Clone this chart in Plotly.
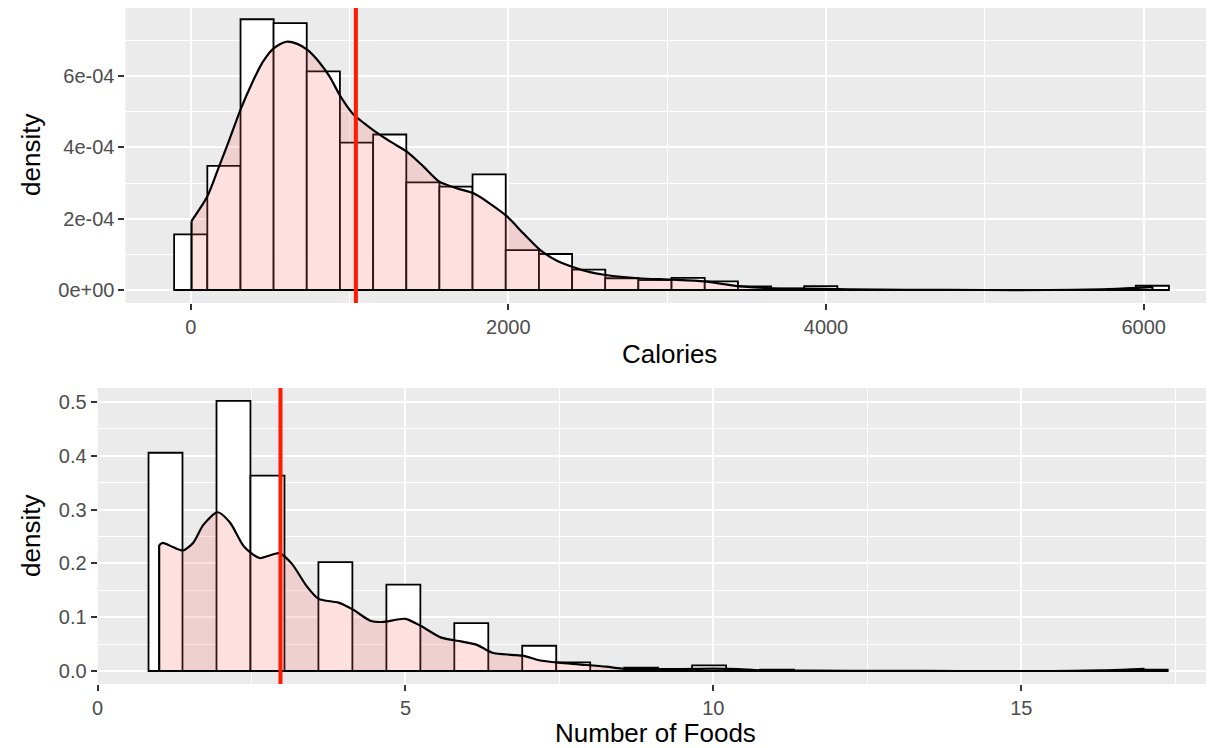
import plotly.graph_objects as go

# ---------------- data: Calories panel ----------------
cal_bin_centers = [0, 209, 418, 626, 835, 1044, 1253, 1462, 1670, 1879,
                   2088, 2297, 2506, 2714, 2923, 3132, 3341, 3550, 3758, 3967,
                   4176, 4385, 4594, 4802, 5011, 5220, 5429, 5638, 5846, 6055]
cal_bin_width = 208.8
cal_density_bars = [1.56e-4, 3.48e-4, 7.59e-4, 7.48e-4, 6.13e-4, 4.13e-4, 4.36e-4, 3.02e-4, 2.90e-4, 3.24e-4,
                    1.12e-4, 1.01e-4, 0.57e-4, 0.33e-4, 0.28e-4, 0.34e-4, 0.24e-4, 0.10e-4, 0.04e-4, 0.11e-4,
                    0, 0, 0, 0, 0, 0, 0, 0, 0, 0.12e-4]
cal_kde_x = [5, 104, 174, 243, 313, 385, 455, 524, 601, 671, 735, 807, 875, 944, 1019, 1093,
             1153, 1257, 1361, 1466, 1565, 1677, 1781, 1888, 1990, 2094, 2201, 2306, 2410,
             2514, 2614, 2817, 3027, 3234, 3447, 3654, 3872, 4138, 4500, 5000, 5400, 5734, 5947, 6055]
cal_kde_y = [1.93e-4, 2.62e-4, 3.41e-4, 4.21e-4, 5.05e-4, 5.79e-4, 6.40e-4, 6.78e-4, 6.96e-4, 6.90e-4,
             6.73e-4, 6.40e-4, 5.98e-4, 5.42e-4, 4.95e-4, 4.67e-4, 4.47e-4, 4.16e-4, 3.88e-4, 3.46e-4,
             3.04e-4, 2.85e-4, 2.71e-4, 2.41e-4, 2.07e-4, 1.59e-4, 1.12e-4, 0.82e-4, 0.64e-4,
             0.50e-4, 0.42e-4, 0.33e-4, 0.29e-4, 0.24e-4, 0.11e-4, 0.05e-4, 0.04e-4, 0.02e-4, 0.005e-4,
             0.0, 0.0, 0.02e-4, 0.06e-4, 0.09e-4]
cal_mean = 1040
cal_tickvals = [0, 2000, 4000, 6000]
cal_ticktext = ["0", "2000", "4000", "6000"]
cal_minor_x = [1000, 3000, 5000]
cal_ytickvals = [0, 2e-4, 4e-4, 6e-4]
cal_yticktext = ["0e+00", "2e-04", "4e-04", "6e-04"]
cal_minor_y = [1e-4, 3e-4, 5e-4, 7e-4]

# ---------------- data: Number of Foods panel ----------------
nf_bin_centers = [1.103, 1.655, 2.207, 2.759, 3.310, 3.862, 4.414, 4.966, 5.517, 6.069,
                  6.621, 7.172, 7.724, 8.276, 8.828, 9.379, 9.931, 10.483, 11.034, 11.586,
                  12.138, 12.690, 13.241, 13.793, 14.345, 14.897, 15.448, 16.000, 16.552, 17.103]
nf_bin_width = 0.5517
nf_density_bars = [0.4056, 0, 0.502, 0.363, 0, 0.2025, 0, 0.1605, 0, 0.0889,
                   0, 0.0469, 0.016, 0, 0.0062, 0, 0.0105, 0, 0.0025, 0,
                   0, 0, 0, 0, 0, 0, 0, 0, 0, 0.0025]
nf_kde_x = [1.0, 1.06, 1.23, 1.39, 1.55, 1.72, 1.95, 2.15, 2.38, 2.63, 2.95, 3.15, 3.40, 3.59,
            3.91, 4.15, 4.42, 4.62, 5.0, 5.26, 5.58, 5.90, 6.15, 6.41, 6.73, 6.92, 7.17, 7.49,
            7.81, 8.26, 8.55, 9.0, 9.47, 10.0, 10.4, 10.75, 11.5, 12.9, 14.0, 15.5, 16.3, 16.8, 17.0]
nf_kde_y = [0.234, 0.238, 0.230, 0.224, 0.238, 0.272, 0.295, 0.276, 0.231, 0.210, 0.219, 0.200,
            0.157, 0.134, 0.127, 0.114, 0.094, 0.091, 0.097, 0.083, 0.062, 0.055, 0.049, 0.034,
            0.030, 0.028, 0.020, 0.0154, 0.0123, 0.008, 0.004, 0.0035, 0.0037, 0.0043, 0.0035,
            0.0012, 0.0005, 0.0001, 0.0, 0.0, 0.001, 0.003, 0.004]
nf_mean = 2.97
nf_tickvals = [0, 5, 10, 15]
nf_ticktext = ["0", "5", "10", "15"]
nf_minor_x = [2.5, 7.5, 12.5, 17.5]
nf_ytickvals = [0, 0.1, 0.2, 0.3, 0.4, 0.5]
nf_yticktext = ["0.0", "0.1", "0.2", "0.3", "0.4", "0.5"]
nf_minor_y = [0.05, 0.15, 0.25, 0.35, 0.45]

# ---------------- styling ----------------
PAGE_W, PAGE_H = 1214, 748
OFF = 8                      # default page margin around the plot div
W, H = PAGE_W - OFF, PAGE_H - OFF
FONT = "Liberation Sans, Arial, sans-serif"
PANEL = "#EBEBEB"
FILL = "rgba(255,102,102,0.2)"
TICKC = "#4D4D4D"


def px(p):
    return min(1.0, max(0.0, (p - OFF) / W))


def py(p):
    return min(1.0, max(0.0, 1 - (p - OFF) / H))


fig = go.Figure()


def add_panel(xa, ya, centers, width, bars, kx, ky):
    fig.add_trace(go.Bar(x=centers, y=bars, width=width, xaxis=xa, yaxis=ya,
                         marker=dict(color="white", line=dict(color="black", width=1.8)),
                         hoverinfo="skip"))
    fig.add_trace(go.Scatter(x=kx, y=ky, xaxis=xa, yaxis=ya, mode="lines",
                             line=dict(color="black", width=2.2, shape="spline", smoothing=0.7),
                             fill="tozeroy", fillcolor=FILL, hoverinfo="skip"))
    fig.add_trace(go.Scatter(x=[kx[0], kx[0], kx[-1], kx[-1]], y=[ky[0], 0, 0, ky[-1]],
                             xaxis=xa, yaxis=ya, mode="lines",
                             line=dict(color="black", width=2.2), hoverinfo="skip"))


add_panel("x", "y", cal_bin_centers, cal_bin_width, cal_density_bars, cal_kde_x, cal_kde_y)
add_panel("x2", "y2", nf_bin_centers, nf_bin_width, nf_density_bars, nf_kde_x, nf_kde_y)


def axis_style(tickvals, ticktext, minor_vals, rng, domain, anchor):
    return dict(
        domain=domain, range=rng, anchor=anchor,
        tickmode="array", tickvals=tickvals, ticktext=ticktext,
        ticks="outside", ticklen=6, tickwidth=2, tickcolor="#333333",
        tickfont=dict(family=FONT, size=20, color=TICKC),
        showgrid=True, gridcolor="white", gridwidth=2.4,
        zeroline=False, showline=False, fixedrange=True,
        minor=dict(tickmode="array", tickvals=minor_vals, showgrid=True,
                   gridcolor="white", gridwidth=1.2, ticks=""),
    )


top_y_dom = [py(303), 1.0]       # panel top sits at the top of the plot div
bot_y_dom = [py(684), py(388)]

fig.update_layout(
    width=W, height=H,
    margin=dict(l=0, r=0, t=0, b=0),
    paper_bgcolor="white", plot_bgcolor=PANEL,
    showlegend=False, barmode="overlay",
    font=dict(family=FONT),
    xaxis=axis_style(cal_tickvals, cal_ticktext, cal_minor_x, [-411, 6443], [px(120), 1], "y"),
    yaxis=axis_style(cal_ytickvals, cal_yticktext, cal_minor_y, [-0.364e-4, 7.906e-4], top_y_dom, "x"),
    xaxis2=axis_style(nf_tickvals, nf_ticktext, nf_minor_x, [0.0, 18.13], [px(92), 1], "y2"),
    yaxis2=axis_style(nf_ytickvals, nf_yticktext, nf_minor_y, [-0.0242, 0.526], bot_y_dom, "x2"),
    shapes=[
        dict(type="line", xref="x", yref="y domain", x0=cal_mean, x1=cal_mean, y0=0, y1=1,
             line=dict(color="#FF1A00", width=4), layer="above"),
        dict(type="line", xref="x2", yref="y2 domain", x0=nf_mean, x1=nf_mean, y0=0, y1=1,
             line=dict(color="#FF1A00", width=4), layer="above"),
    ],
    annotations=[
        dict(text="Calories", xref="paper", yref="paper", x=px((120 + PAGE_W) / 2), y=py(354),
             showarrow=False, font=dict(family=FONT, size=26, color="black"),
             xanchor="center", yanchor="middle"),
        dict(text="Number of Foods", xref="paper", yref="paper", x=px((92 + PAGE_W) / 2), y=py(733),
             showarrow=False, font=dict(family=FONT, size=26, color="black"),
             xanchor="center", yanchor="middle"),
        dict(text="density", xref="paper", yref="paper", x=px(25), y=py(155),
             textangle=-90, showarrow=False, font=dict(family=FONT, size=26, color="black"),
             xanchor="center", yanchor="middle"),
        dict(text="density", xref="paper", yref="paper", x=px(25), y=sum(bot_y_dom) / 2,
             textangle=-90, showarrow=False, font=dict(family=FONT, size=26, color="black"),
             xanchor="center", yanchor="middle"),
    ],
)

fig.write_html("out.html")
